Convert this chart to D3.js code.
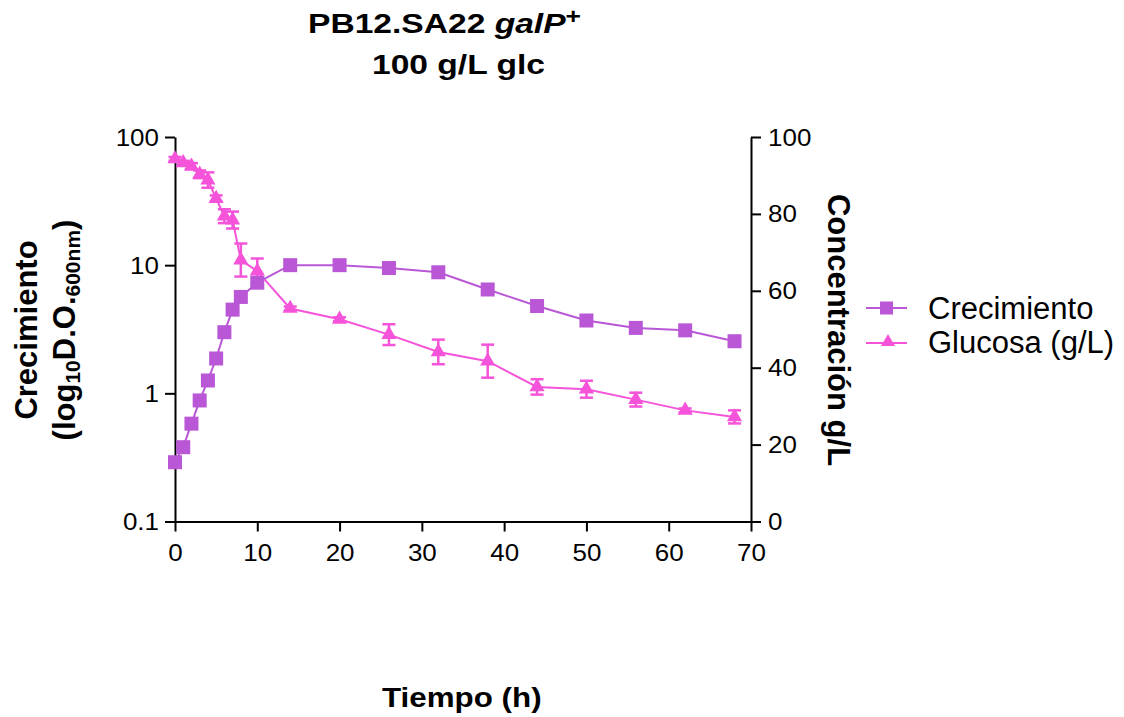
<!DOCTYPE html>
<html>
<head>
<meta charset="utf-8">
<script src="https://cdn.jsdelivr.net/npm/d3@7"></script>
<style>
  body { margin: 0; background: #fff; }
  svg { font-family: "Liberation Sans", Arial, sans-serif; }
</style>
</head>
<body>
<svg id="chart" width="1124" height="717"></svg>
<script>
// time points (h)
const growthTime = [0, 1, 2, 3, 4, 5, 6, 7, 8, 10, 14, 20, 26, 32, 38, 44, 50, 56, 62, 68];
const growthOD = [0.29, 0.38, 0.58, 0.88, 1.26, 1.87, 3.0, 4.5, 5.65, 7.3, 10.0, 10.0, 9.5, 8.8, 6.46, 4.8, 3.7, 3.24, 3.1, 2.55];

const glucoseTime = [0, 1, 2, 3, 4, 5, 6, 7, 8, 10, 14, 20, 26, 32, 38, 44, 50, 56, 62, 68];
const glucoseConc = [94.3, 93.3, 92.4, 90.3, 88.8, 84.0, 79.4, 78.4, 68.0, 65.1, 55.4, 52.6, 48.6, 44.1, 41.7, 35.0, 34.4, 31.7, 28.9, 27.2];
const glucoseErr = [0.5, 0.5, 0.8, 1.0, 2.0, 0.8, 1.8, 2.2, 4.3, 3.3, 0.5, 0.5, 2.7, 3.2, 4.3, 2.0, 2.2, 1.8, 0.5, 1.7];

const xTicks = [0, 10, 20, 30, 40, 50, 60, 70];
const leftTicks = [0.1, 1, 10, 100];
const leftTickLabels = ["0.1", "1", "10", "100"];
const rightTicks = [0, 20, 40, 60, 80, 100];

const growthColor = "#b957d6";
const glucoseColor = "#f553d9";

const svg = d3.select("#chart");
const plotLeft = 175, plotRight = 751, plotTop = 137, plotBottom = 521.5;
const stretch = 1.13; // exported labels look a bit wide

const x = d3.scaleLinear().domain([0, 70]).range([plotLeft, plotRight]);
const yLeft = d3.scaleLog().domain([0.1, 100]).range([plotBottom, plotTop]);
const yRight = d3.scaleLinear().domain([0, 100]).range([plotBottom, plotTop]);

// axes
const xAxis = svg.append("g")
  .attr("transform", `translate(0,${plotBottom})`)
  .call(d3.axisBottom(x).tickValues(xTicks).tickSize(10).tickSizeOuter(0));
const leftAxis = svg.append("g")
  .attr("transform", `translate(${plotLeft},0)`)
  .call(d3.axisLeft(yLeft).tickValues(leftTicks).tickFormat((d, i) => leftTickLabels[i]).tickSize(10).tickSizeOuter(0));
const rightAxis = svg.append("g")
  .attr("transform", `translate(${plotRight},0)`)
  .call(d3.axisRight(yRight).tickValues(rightTicks).tickSize(10).tickSizeOuter(0));

[xAxis, leftAxis, rightAxis].forEach((g) => {
  g.selectAll("path, line").attr("stroke", "#000").attr("stroke-width", 2);
  g.selectAll("text").attr("font-size", 23).attr("fill", "#000")
    .attr("font-family", "'Liberation Sans', Arial, sans-serif")
    .attr("transform", `scale(${stretch},1)`);
});
xAxis.selectAll("text").attr("y", 40).attr("dy", 0);
leftAxis.selectAll("text").attr("x", -16 / stretch).attr("dy", "0.35em");
rightAxis.selectAll("text").attr("x", 17 / stretch).attr("dy", "0.35em");

// glucose error bars
const errG = svg.append("g").attr("stroke", glucoseColor).attr("stroke-width", 2.5);
glucoseTime.forEach((t, i) => {
  const cx = x(t);
  const y1 = yRight(glucoseConc[i] + glucoseErr[i]);
  const y2 = yRight(glucoseConc[i] - glucoseErr[i]);
  errG.append("line").attr("x1", cx).attr("x2", cx).attr("y1", y1).attr("y2", y2);
  errG.append("line").attr("x1", cx - 6.5).attr("x2", cx + 6.5).attr("y1", y1).attr("y2", y1);
  errG.append("line").attr("x1", cx - 6.5).attr("x2", cx + 6.5).attr("y1", y2).attr("y2", y2);
});

// lines
const growthData = growthTime.map((t, i) => [t, growthOD[i]]);
const glucoseData = glucoseTime.map((t, i) => [t, glucoseConc[i]]);

svg.append("path")
  .datum(glucoseData)
  .attr("fill", "none")
  .attr("stroke", glucoseColor)
  .attr("stroke-width", 2)
  .attr("d", d3.line().x((d) => x(d[0])).y((d) => yRight(d[1])));

svg.append("path")
  .datum(growthData)
  .attr("fill", "none")
  .attr("stroke", growthColor)
  .attr("stroke-width", 2)
  .attr("d", d3.line().x((d) => x(d[0])).y((d) => yLeft(d[1])));

// markers
svg.append("g").selectAll("rect")
  .data(growthData)
  .join("rect")
  .attr("x", (d) => x(d[0]) - 7)
  .attr("y", (d) => yLeft(d[1]) - 7)
  .attr("width", 14)
  .attr("height", 14)
  .attr("fill", growthColor);

const tri = d3.symbol().type(d3.symbolTriangle).size(100);
svg.append("g").selectAll("path")
  .data(glucoseData)
  .join("path")
  .attr("transform", (d) => `translate(${x(d[0])},${yRight(d[1])})`)
  .attr("d", tri)
  .attr("fill", glucoseColor);

// title
const title = svg.append("text")
  .attr("transform", "translate(308,33) scale(1.2,1)")
  .attr("font-size", 28).attr("font-weight", "bold");
title.append("tspan").text("PB12.SA22 ");
title.append("tspan").attr("font-style", "italic").text("galP");
title.append("tspan").attr("font-size", 22).attr("dy", -9).text("+");
svg.append("text")
  .attr("transform", "translate(372,74) scale(1.2,1)")
  .attr("font-size", 28).attr("font-weight", "bold")
  .text("100 g/L glc");

// x axis title
svg.append("text")
  .attr("transform", "translate(382,707) scale(1.12,1)")
  .attr("font-size", 28).attr("font-weight", "bold")
  .text("Tiempo (h)");

// left axis title
const leftTitle = svg.append("g").attr("transform", "translate(0,330) rotate(-90)");
leftTitle.append("text")
  .attr("x", 0).attr("y", 37)
  .attr("text-anchor", "middle")
  .attr("font-size", 31).attr("font-weight", "bold")
  .text("Crecimiento");
const lt2 = leftTitle.append("text")
  .attr("x", 0).attr("y", 75)
  .attr("text-anchor", "middle")
  .attr("font-size", 31).attr("font-weight", "bold");
lt2.append("tspan").text("(log");
lt2.append("tspan").attr("font-size", 21).attr("dy", 5).text("10");
lt2.append("tspan").attr("dy", -5).text("D.O.");
lt2.append("tspan").attr("font-size", 21).attr("dy", 5).text("600nm");
lt2.append("tspan").attr("dy", -5).text(")");

// right axis title
svg.append("text")
  .attr("transform", "translate(828,330) rotate(90)")
  .attr("text-anchor", "middle")
  .attr("font-size", 31).attr("font-weight", "bold")
  .text("Concentración g/L");

// legend
const legend = svg.append("g");
const legendItems = [
  { label: "Crecimiento", color: growthColor, shape: "square", y: 308, textY: 319 },
  { label: "Glucosa (g/L)", color: glucoseColor, shape: "triangle", y: 343, textY: 353 },
];
legendItems.forEach((item) => {
  legend.append("line")
    .attr("x1", 866).attr("x2", 907)
    .attr("y1", item.y).attr("y2", item.y)
    .attr("stroke", item.color).attr("stroke-width", 2);
  if (item.shape === "square") {
    legend.append("rect")
      .attr("x", 880).attr("y", item.y - 6.5)
      .attr("width", 13).attr("height", 13)
      .attr("fill", item.color);
  } else {
    legend.append("path")
      .attr("transform", `translate(888,${item.y - 1})`)
      .attr("d", d3.symbol().type(d3.symbolTriangle).size(85))
      .attr("fill", item.color);
  }
  legend.append("text")
    .attr("x", 928).attr("y", item.textY)
    .attr("font-size", 31)
    .text(item.label);
});
</script>
</body>
</html>
